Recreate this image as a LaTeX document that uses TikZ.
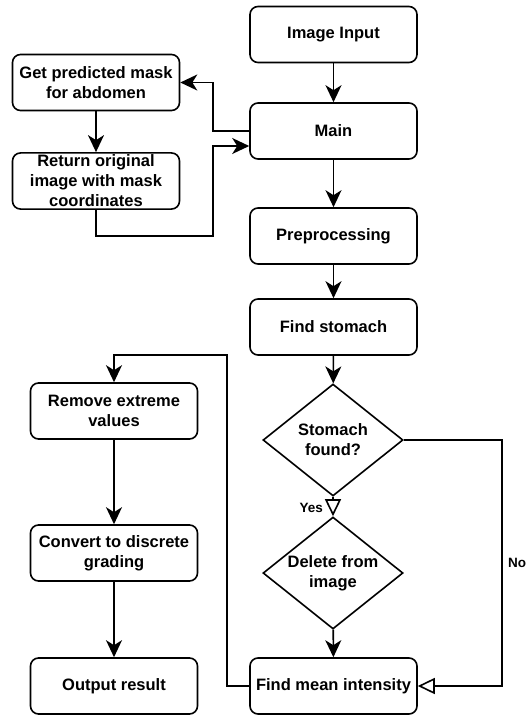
\documentclass[tikz,border=0pt]{standalone}
\usepackage{fontspec}
\setmainfont{Liberation Sans}
\usetikzlibrary{arrows.meta,shapes.geometric}

\begin{document}
\begin{tikzpicture}[x=1pt,y=-1pt,
  box/.style={draw,line width=1.6pt,rounded corners=8pt,minimum width=167pt,minimum height=56pt,align=center,inner sep=2pt,font=\bfseries\fontsize{16.5}{20}\selectfont},
  decision/.style={draw,diamond,line width=1.6pt,minimum width=140pt,minimum height=112pt,aspect=1.25,align=center,inner sep=0pt,font=\bfseries\fontsize{16.5}{20}\selectfont},
  flow/.style={line width=1.6pt,-{Stealth[length=17pt,width=16pt,inset=5pt]}},
  openflow/.style={line width=1.6pt,-{Triangle[open,length=17pt,width=16pt]}},
  lbl/.style={font=\bfseries\fontsize{13.5}{16}\selectfont}]
\useasboundingbox (0,0) rectangle (531,720);
% Main column
\node[box] (input) at (333.5,34.5) {Image Input};
\node[box] (main) at (333.5,131) {Main};
\node[box] (prep) at (333.5,236) {Preprocessing};
\node[box] (findst) at (333.5,327) {Find stomach};
\node[decision] (found) at (333,440) {Stomach\\found?};
\node[decision] (delete) at (333,573) {Delete from\\image};
\node[box] (mean) at (333.5,686) {Find mean intensity};
% Mask branch
\node[box] (mask) at (96,82.5) {Get predicted mask\\for abdomen};
\node[box] (orig) at (96,181) {Return original\\image with mask\\coordinates};
% Grading column
\node[box] (extreme) at (114,411) {Remove extreme\\values};
\node[box] (grading) at (114,553) {Convert to discrete\\grading};
\node[box] (output) at (114,686) {Output result};
% Turning points
\coordinate (maskbus) at (213,131);
\coordinate (retbus) at (213,236);
\coordinate (nobend) at (502,440);
\coordinate (meanbus) at (227,355);
% Connectors
\draw[flow] (input) -- (main);
\draw[flow] (main) -- (prep);
\draw[flow] (prep) -- (findst);
\draw[flow] (findst) -- (found);
\draw[openflow] (found) -- (delete) node[lbl,pos=0.55,left=6pt] {Yes};
\draw[flow] (delete) -- (mean);
\draw[openflow] (found.east) -- (nobend) |- (mean.east) node[lbl,pos=0.25,right=2pt] {No};
\draw[flow] (main.west) -- (maskbus) |- (mask.east);
\draw[flow] (mask) -- (orig);
\draw[flow] (orig.south) |- (retbus) |- ([yshift=-15pt]main.west);
\draw[flow] (mean.west) -| (meanbus) -| (extreme.north);
\draw[flow] (extreme) -- (grading);
\draw[flow] (grading) -- (output);
\end{tikzpicture}
\end{document}
